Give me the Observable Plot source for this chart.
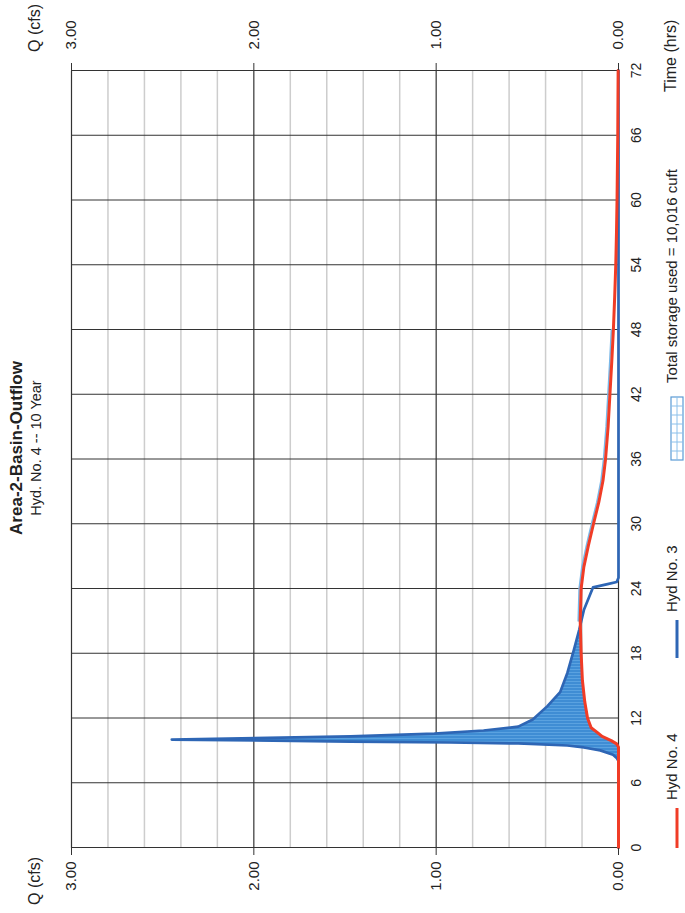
<!DOCTYPE html>
<html>
<head>
<meta charset="utf-8">
<script src="https://cdn.jsdelivr.net/npm/d3@7"></script>
<script src="https://cdn.jsdelivr.net/npm/@observablehq/plot@0.6"></script>
<style>
  html, body { margin: 0; padding: 0; width: 685px; height: 913px; overflow: hidden; background: #fff; }
  #land { position: absolute; left: 0; top: 0; width: 913px; height: 685px; transform-origin: 0 0; transform: translate(0px, 913px) rotate(-90deg); font-family: "Liberation Sans", Arial, sans-serif; color: #222; }
  .t { position: absolute; white-space: nowrap; }
</style>
</head>
<body>
<div id="land">
  <div class="t" style="left:0;width:930px;text-align:center;top:7px;font-size:17px;line-height:20px;font-weight:bold;">Area-2-Basin-Outflow</div>
  <div class="t" style="left:0;width:930px;text-align:center;top:27px;font-size:14.5px;line-height:18px;">Hyd. No. 4 -- 10 Year</div>
  <div class="t" style="left:8px;top:26px;font-size:16px;line-height:18px;">Q (cfs)</div>
  <div class="t" style="left:861px;top:26px;font-size:16px;line-height:18px;">Q (cfs)</div>
  <div class="t" style="left:821px;top:662px;font-size:16px;line-height:18px;">Time (hrs)</div>
  <div id="chart" style="position:absolute;left:0;top:0;"></div>
  <svg id="legsw" width="913" height="685" style="position:absolute;left:0;top:0;pointer-events:none;"></svg>
  <div class="t" style="left:113px;top:663px;font-size:15px;line-height:17px;">Hyd No. 4</div>
  <div class="t" style="left:301px;top:663px;font-size:15px;line-height:17px;">Hyd No. 3</div>
  <div class="t" style="left:530px;top:663px;font-size:15px;line-height:17px;">Total storage used = 10,016 cuft</div>
</div>
<script>
// ---- Data ----
const hyd3Time = [0, 8.0, 8.3, 8.6, 9.0, 9.27, 9.45, 9.64, 9.73, 9.82, 10.0, 10.29, 10.56, 10.84, 11.2, 11.86, 13.1, 14.4, 16.2, 18.3, 20.2, 22.0, 24.1, 24.4, 24.6, 25.0, 72];
const hyd3Q    = [0, 0, 0.01, 0.03, 0.10, 0.19, 0.28, 0.55, 0.92, 1.47, 2.45, 1.47, 1.01, 0.74, 0.55, 0.47, 0.39, 0.32, 0.28, 0.245, 0.215, 0.19, 0.14, 0.06, 0.01, 0, 0];
const hyd4Time = [0, 9.3, 9.6, 9.9, 10.3, 10.65, 11.1, 12.0, 13.5, 15.5, 18, 21, 24, 26, 28, 30, 32, 34, 36, 39, 42, 45, 48, 51, 54, 57, 60, 66, 72];
const hyd4Q    = [0, 0, 0.01, 0.04, 0.09, 0.115, 0.15, 0.17, 0.185, 0.198, 0.205, 0.21, 0.205, 0.19, 0.165, 0.137, 0.108, 0.085, 0.071, 0.057, 0.047, 0.037, 0.028, 0.021, 0.015, 0.011, 0.008, 0.004, 0.002];
const timeTicks = [0, 6, 12, 18, 24, 30, 36, 42, 48, 54, 60, 66, 72];
const qTicks = [0, 1, 2, 3];
const qMinor = [0.2, 0.4, 0.6, 0.8, 1.2, 1.4, 1.6, 1.8, 2.2, 2.4, 2.6, 2.8];
const legendLabels = ["Hyd No. 4", "Hyd No. 3", "Total storage used = 10,016 cuft"];

// ---- Tables built from the arrays ----
const hyd3 = hyd3Time.map((t, i) => ({t, q: hyd3Q[i]}));
const hyd4 = hyd4Time.map((t, i) => ({t, q: hyd4Q[i]}));
const interp = (T, Q) => t => {
  if (t <= T[0]) return Q[0];
  for (let i = 1; i < T.length; i++) {
    if (t <= T[i]) { const f = (t - T[i-1]) / (T[i] - T[i-1]); return Q[i-1] + f * (Q[i] - Q[i-1]); }
  }
  return Q[Q.length - 1];
};
const fb = interp(hyd3Time, hyd3Q), fr = interp(hyd4Time, hyd4Q);
let ts = Array.from(new Set([...hyd3Time, ...hyd4Time])).filter(t => t >= 7.5 && t <= 25).sort((a, b) => a - b);
const storage = [];
for (let i = 0; i < ts.length; i++) {
  const t = ts[i];
  if (i > 0) {
    const tp = ts[i-1], dp = fb(tp) - fr(tp), d = fb(t) - fr(t);
    if (dp * d < 0) { const tc = tp + (t - tp) * dp / (dp - d); storage.push({t: tc, lo: fr(tc), hi: fr(tc)}); }
  }
  storage.push({t, lo: fr(t), hi: Math.max(fb(t), fr(t))});
}
const glow = hyd4.filter(d => d.t >= 20 && d.t <= 50);

const chart = Plot.plot({
  width: 913, height: 685,
  marginLeft: 65, marginRight: 71, marginTop: 71, marginBottom: 67,
  style: {fontFamily: "'Liberation Sans', Arial, sans-serif", color: "#222", background: "transparent", overflow: "visible"},
  x: {domain: [0, 72]},
  y: {domain: [0, 3]},
  marks: [
    Plot.ruleY(qMinor, {stroke: "#cdcdcd", strokeWidth: 1.5}),
    Plot.ruleX(timeTicks, {stroke: "#333", strokeWidth: 1}),
    Plot.ruleY(qTicks, {stroke: "#333", strokeWidth: 1.2}),
    Plot.areaY(storage, {x: "t", y1: "lo", y2: "hi", fill: "url(#storagePat)"}),
    Plot.line(hyd3, {x: "t", y: "q", stroke: "#2e66b5", strokeWidth: 2.7}),
    Plot.line(glow, {x: "t", y: "q", stroke: "#7ab8e8", strokeWidth: 1.6, dy: -2}),
    Plot.line(hyd4, {x: "t", y: "q", stroke: "#f03c26", strokeWidth: 3}),
    Plot.axisX({ticks: timeTicks, tickSize: 0, tickPadding: 13, tickFormat: d => String(d), fontSize: 14, label: null}),
    Plot.axisY({anchor: "left", ticks: qTicks, tickSize: 7, tickPadding: 7, tickFormat: d3.format(".2f"), fontSize: 15, label: null, stroke: "#333"}),
    Plot.axisY({anchor: "right", ticks: qTicks, tickSize: 7, tickPadding: 14, tickFormat: d3.format(".2f"), fontSize: 15, label: null, stroke: "#333"})
  ]
});
const ns = "http://www.w3.org/2000/svg";
const defs = document.createElementNS(ns, "defs");
defs.innerHTML = '<pattern id="storagePat" patternUnits="userSpaceOnUse" width="3" height="10"><rect width="3" height="10" fill="#3f8dd4"/><line x1="0.5" y1="0" x2="0.5" y2="10" stroke="#5aa2e0" stroke-width="1"/></pattern>';
chart.insertBefore(defs, chart.firstChild);
document.getElementById("chart").appendChild(chart);

// Legend swatches
const leg = d3.select("#legsw");
leg.append("line").attr("x1", 65).attr("x2", 105).attr("y1", 677).attr("y2", 677).attr("stroke", "#f03c26").attr("stroke-width", 3);
leg.append("line").attr("x1", 255).attr("x2", 293).attr("y1", 677).attr("y2", 677).attr("stroke", "#2e66b5").attr("stroke-width", 3);
const g = leg.append("g").attr("transform", "translate(453,671)");
g.append("rect").attr("width", 63).attr("height", 12).attr("fill", "#fff").attr("stroke", "#5b9bd5").attr("stroke-width", 1.2);
for (let x = 9; x < 63; x += 9) g.append("line").attr("x1", x).attr("x2", x).attr("y1", 0).attr("y2", 12).attr("stroke", "#8cc0ea").attr("stroke-width", 1);
g.append("line").attr("x1", 0).attr("x2", 63).attr("y1", 6).attr("y2", 6).attr("stroke", "#8cc0ea").attr("stroke-width", 1);
</script>
</body>
</html>
